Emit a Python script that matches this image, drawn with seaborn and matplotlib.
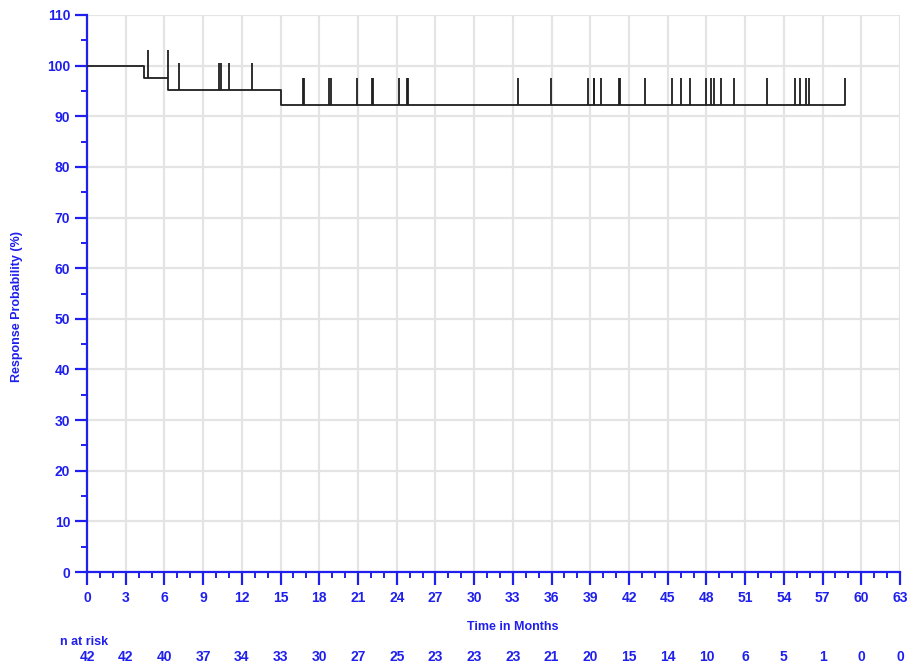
import matplotlib
matplotlib.use("Agg")
import matplotlib.pyplot as plt
import matplotlib.transforms as mtransforms
from matplotlib.ticker import MultipleLocator
import numpy as np
import pandas as pd
import seaborn as sns

# ---- data ----
step_times = [0.0, 4.44, 6.30, 15.04, 58.76]
step_values = [100.0, 97.6, 95.2, 92.2, 92.2]

censor_times = [4.73, 6.28, 7.13, 10.25, 10.36, 11.03, 12.76,
                16.77, 16.82, 18.76, 18.91, 20.95, 22.12, 22.17,
                24.21, 24.78, 24.88, 33.38, 35.94,
                38.86, 39.25, 39.30, 39.82, 41.19, 41.32, 43.26,
                45.37, 46.02, 46.69, 47.93, 48.37, 48.55, 49.12,
                50.17, 52.68, 54.83, 55.27, 55.74, 55.92, 58.76]

risk_times = [0, 3, 6, 9, 12, 15, 18, 21, 24, 27, 30, 33, 36, 39, 42,
              45, 48, 51, 54, 57, 60, 63]
n_at_risk = [42, 42, 40, 37, 34, 33, 30, 27, 25, 23, 23, 23, 21, 20, 15,
             14, 10, 6, 5, 1, 0, 0]

BLUE = "#1f1fee"
CURVE = "#1e1e1e"

sns.set_theme(style="white")
plt.rcParams["font.family"] = ["Liberation Sans", "DejaVu Sans"]

fig = plt.figure(figsize=(9.08, 6.64), dpi=100)
ax = fig.add_axes([87 / 908, 1 - 572 / 664, (900 - 87) / 908, (572 - 15) / 664])

curve = pd.DataFrame({"time": step_times, "prob": step_values})
sns.lineplot(data=curve, x="time", y="prob", ax=ax, drawstyle="steps-post",
             color=CURVE, linewidth=1.3, zorder=4)

# censor marks: vertical ticks rising from the curve level
st = np.array(step_times)
sv = np.array(step_values)
levels = [sv[np.searchsorted(st, t, side="right") - 1] for t in censor_times]
ax.vlines(censor_times, levels, np.array(levels) + 5.4, color=CURVE,
          linewidth=1.3, zorder=4)

ax.set_xlim(0, 63)
ax.set_ylim(0, 110)
ax.xaxis.set_major_locator(MultipleLocator(3))
ax.xaxis.set_minor_locator(MultipleLocator(1))
ax.yaxis.set_major_locator(MultipleLocator(10))
ax.yaxis.set_minor_locator(MultipleLocator(5))

ax.grid(True, which="major", color="#e4e4e4", linewidth=1.6, zorder=0)
ax.set_axisbelow(True)

for s in ["top", "right"]:
    ax.spines[s].set_visible(False)
for s in ["left", "bottom"]:
    ax.spines[s].set_color(BLUE)
    ax.spines[s].set_linewidth(1.6)

ax.tick_params(axis="both", which="major", direction="out", length=9,
               width=1.6, color=BLUE, labelcolor=BLUE, labelsize=10,
               left=True, bottom=True)
ax.tick_params(axis="both", which="minor", direction="out", length=4.5,
               width=1.4, color=BLUE, left=True, bottom=True)
ax.tick_params(axis="x", which="major", pad=5)
ax.tick_params(axis="y", which="major", pad=3)
for lab in ax.get_xticklabels() + ax.get_yticklabels():
    lab.set_fontweight("bold")

ax.set_xlabel("")
ax.set_ylabel("")
fig.text(513 / 908, 1 - 627 / 664, "Time in Months", color=BLUE,
         fontsize=9, fontweight="bold", ha="center", va="center")
fig.text(17 / 908, 1 - 307 / 664, "Response Probability (%)", color=BLUE,
         fontsize=9, fontweight="bold", ha="center", va="center", rotation=90)

fig.text(60 / 908, 1 - 642 / 664, "n at risk", color=BLUE, fontsize=9,
         fontweight="bold", ha="left", va="center")
trans = mtransforms.blended_transform_factory(ax.transData, fig.transFigure)
for t, n in zip(risk_times, n_at_risk):
    ax.text(t, 1 - 657 / 664, str(n), transform=trans, color=BLUE,
            fontsize=10, fontweight="bold", ha="center", va="center",
            clip_on=False)

fig.savefig("out.png", dpi=100)
